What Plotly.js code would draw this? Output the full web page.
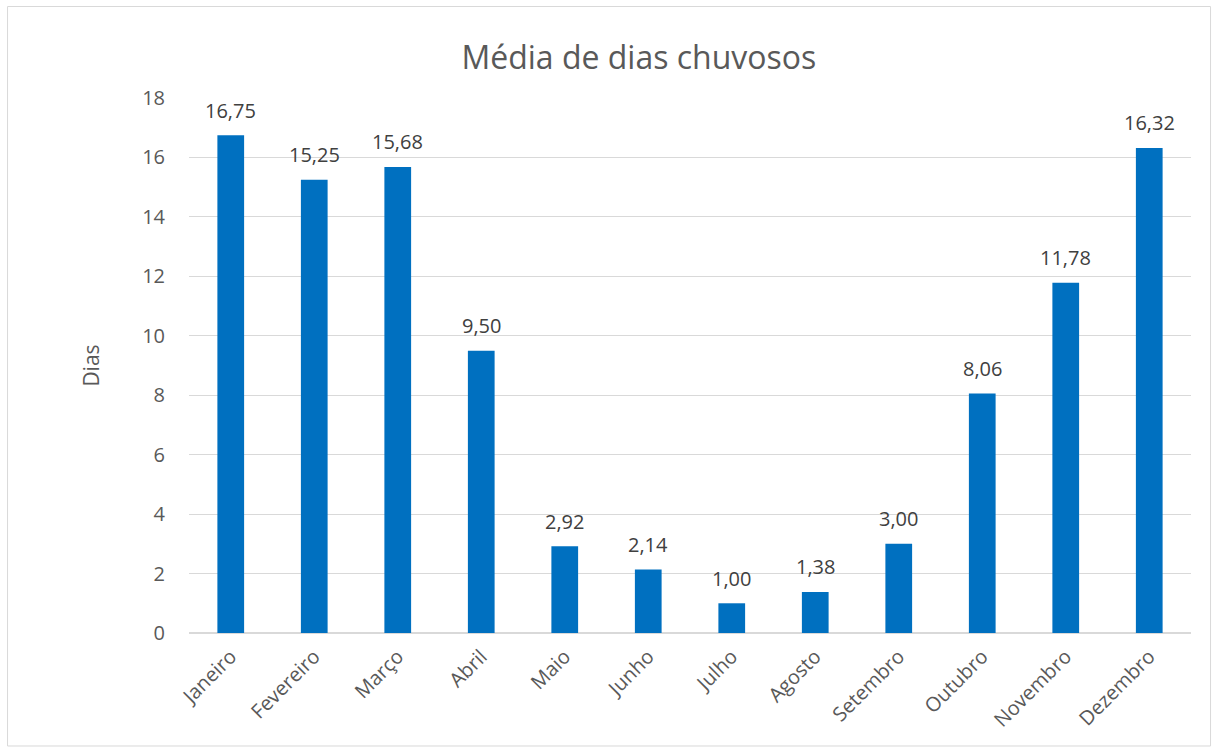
<!DOCTYPE html>
<html>
<head>
<meta charset="utf-8">
<script src="https://cdn.plot.ly/plotly-3.0.1.min.js"></script>
<style>html,body{margin:0;padding:0;background:#fff;}#chart{width:1218px;height:747px;}</style>
</head>
<body>
<div id="chart"></div>
<script>
const months = ["Janeiro","Fevereiro","Março","Abril","Maio","Junho","Julho","Agosto","Setembro","Outubro","Novembro","Dezembro"];
const rainyDays = [16.75,15.25,15.68,9.50,2.92,2.14,1.00,1.38,3.00,8.06,11.78,16.32];
const yTicks = [0,2,4,6,8,10,12,14,16,18];

const FONT = "'Open Sans', sans-serif";
const trace = {
  type: "bar",
  x: months,
  y: rainyDays,
  marker: {color: "#0070C0"},
  hoverinfo: "x+y"
};
const labels = months.map((m, i) => ({
  x: m, y: rainyDays[i], xref: "x", yref: "y",
  text: rainyDays[i].toFixed(2).replace(".", ","),
  showarrow: false, yanchor: "middle", yshift: 25,
  font: {family: FONT, size: 20, color: "#404040"}
}));
const layout = {
  width: 1218, height: 747,
  margin: {l: 189, r: 27, t: 98, b: 114, pad: 0},
  paper_bgcolor: "#ffffff",
  plot_bgcolor: "#ffffff",
  bargap: 0.68,
  showlegend: false,
  title: {text: "Média de dias chuvosos", font: {family: FONT, size: 32, color: "#595959"}, xref: "paper", x: 0.449, xanchor: "center", y: 0.922, yanchor: "middle"},
  font: {family: FONT, color: "#595959"},
  xaxis: {
    tickangle: -45,
    tickfont: {family: FONT, size: 20, color: "#595959"},
    showgrid: false,
    showline: false,
    ticks: "",
    zeroline: false,
    ticklabelstandoff: 7
  },
  yaxis: {
    range: [0, 18],
    tickvals: yTicks,
    ticktext: yTicks.map(String),
    tickfont: {family: FONT, size: 20, color: "#595959"},
    gridcolor: "#d9d9d9",
    gridwidth: 1,
    zeroline: true,
    zerolinecolor: "#d9d9d9",
    zerolinewidth: 1.5,
    showline: false,
    ticks: "",
    ticklabelstandoff: 23,
    title: {text: "Dias", font: {family: FONT, size: 21, color: "#595959"}, standoff: 36}
  },
  annotations: labels,
  shapes: [{
    type: "rect", xref: "paper", yref: "paper",
    x0: -0.1811, x1: 1.0195, y0: -0.2112, y1: 1.1710,
    line: {color: "#d9d9d9", width: 1}, fillcolor: "rgba(0,0,0,0)", layer: "below"
  }]
};
Plotly.newPlot("chart", [trace], layout, {displayModeBar: false, staticPlot: true});
</script>
</body>
</html>
